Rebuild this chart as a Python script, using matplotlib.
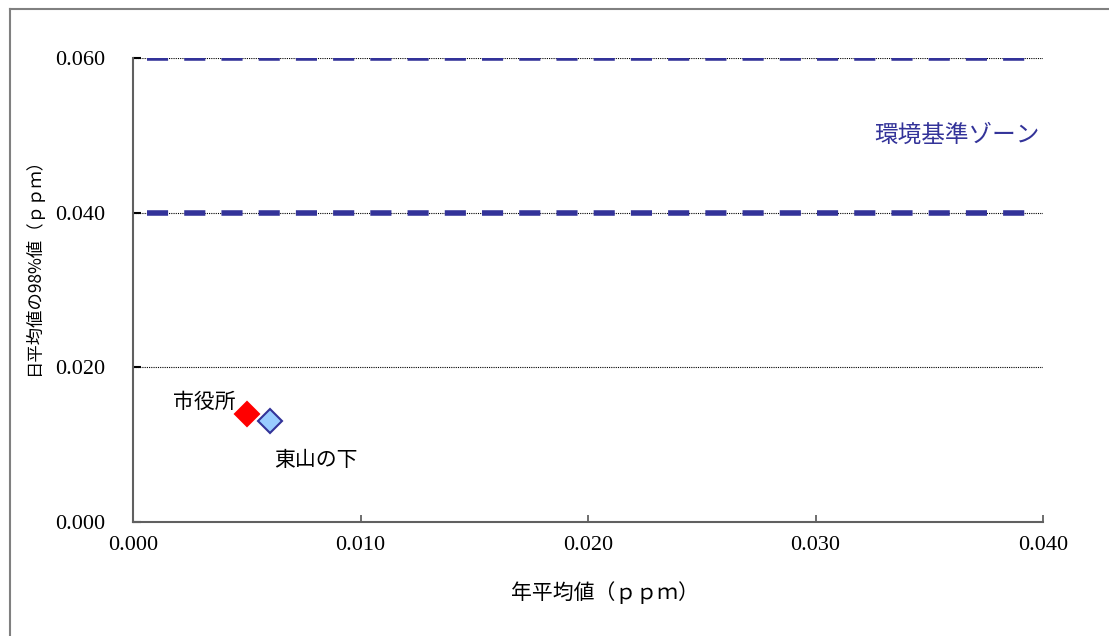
import matplotlib
matplotlib.use('Agg')
import matplotlib.pyplot as plt
from matplotlib.lines import Line2D

# japanese font with fallback
plt.rcParams['font.family'] = ['Noto Sans CJK JP', 'DejaVu Sans']

# station data: annual mean and 98% value of daily mean (ppm)
stations = ['市役所', '東山の下']
annual_mean = [0.005, 0.006]
daily_98 = [0.014, 0.013]
face_colors = ['#FF0000', '#99CCFF']
edge_colors = ['#FF0000', '#333399']

# environmental standard zone lines
zone_levels = [0.060, 0.040]
zone_x = [0.0006, 0.0394]

x_ticks = [0.000, 0.010, 0.020, 0.030, 0.040]
y_ticks = [0.000, 0.020, 0.040, 0.060]

fig = plt.figure(figsize=(11.09, 6.36), dpi=100)
ax = fig.add_axes([133 / 1109, 1 - 522 / 636, 910 / 1109, 464 / 636])

# gridlines
for yv in y_ticks[1:]:
    ax.axhline(yv, color='black', lw=0.8, ls=(0, (1, 1)), zorder=1)

# dashed zone lines
for lvl in zone_levels:
    ax.plot(zone_x, [lvl, lvl], color='#333399', lw=4.0, ls=(0, (3.8, 2.9)),
            solid_capstyle='butt', dash_capstyle='butt', zorder=2)

# stations
for i in range(len(stations)):
    ax.plot(annual_mean[i], daily_98[i], marker='D', ms=12, mfc=face_colors[i],
            mec=edge_colors[i], mew=1.5, ls='none', zorder=3)

ax.text(annual_mean[0] - 0.0005, daily_98[0] + 0.0015, stations[0], fontsize=15,
        ha='right', va='center')
ax.text(annual_mean[1] + 0.0002, daily_98[1] - 0.005, stations[1], fontsize=15,
        ha='left', va='center')
ax.text(0.0362, 0.050, '環境基準ゾーン', fontsize=17, color='#333399',
        ha='center', va='center')

ax.set_xlim(0, 0.040)
ax.set_ylim(0, 0.060)
ax.set_xticks(x_ticks)
ax.set_yticks(y_ticks)
ax.set_xticklabels(['%.3f' % v for v in x_ticks], family='Liberation Serif', fontsize=16)
ax.set_yticklabels(['%.3f' % v for v in y_ticks], family='Liberation Serif', fontsize=16)
ax.tick_params(axis='x', direction='in', length=5, width=1.2, color='#555555', pad=10)
ax.tick_params(axis='y', direction='in', length=6, width=1.5, color='black', pad=20)

for side in ['top', 'right']:
    ax.spines[side].set_visible(False)
for side in ['left', 'bottom']:
    ax.spines[side].set_color('#606060')
    ax.spines[side].set_linewidth(1.5)

fig.text(605 / 1109, 1 - 593 / 636, '年平均値（ｐｐｍ）', fontsize=15,
         ha='center', va='center')
fig.text(33 / 1109, 1 - 262 / 636, '日平均値の98%値（ｐｐｍ）', fontsize=12.5,
         ha='center', va='center', rotation=90)

# outer chart border
fig.add_artist(Line2D([9.5 / 1109, 9.5 / 1109], [0, 1 - 8.5 / 636],
                      transform=fig.transFigure, color='#808080', lw=1.5))
fig.add_artist(Line2D([9.5 / 1109, 1], [1 - 8.5 / 636, 1 - 8.5 / 636],
                      transform=fig.transFigure, color='#808080', lw=1.5))

fig.savefig('out.png', dpi=100)
